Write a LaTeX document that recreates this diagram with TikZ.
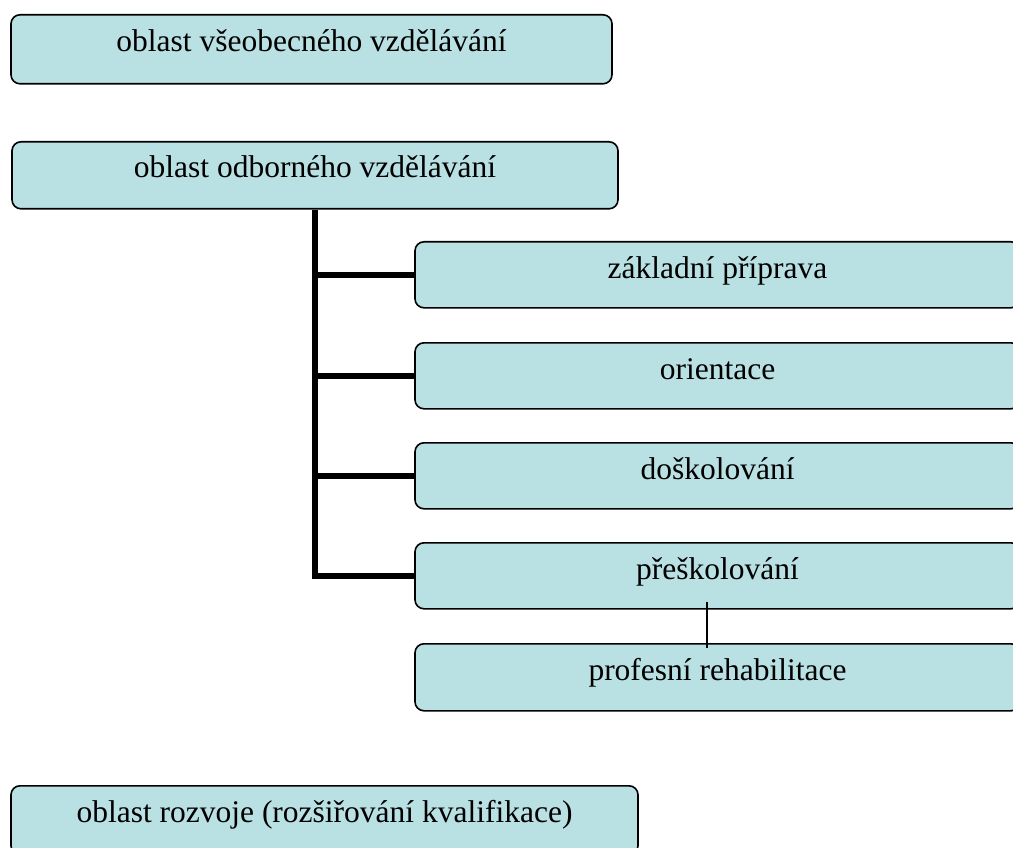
\documentclass[tikz,border=0pt]{standalone}
\usepackage{fontspec}
\setmainfont{Liberation Serif}
\usetikzlibrary{calc}
\definecolor{boxfill}{RGB}{185,224,227}
\begin{document}
\begin{tikzpicture}[x=1pt,y=-1pt,
  box/.style={draw=black, line width=1.6pt, fill=boxfill, rounded corners=9pt,
    inner sep=0pt, font=\fontsize{31.5}{36}\selectfont, anchor=north},
  trunk/.style={line width=6pt, line join=miter, line cap=butt},
  thinline/.style={line width=1.3pt}]
\clip (0,0) rectangle (1013,848);
\fill[white] (0,0) rectangle (1013,848);
\node[box, minimum width=601pt, text height=37pt, text depth=32pt] (vse) at (311.5,14) {oblast všeobecného vzdělávání};
\node[box, minimum width=606pt, text height=36pt, text depth=31pt] (odb) at (315,141) {oblast odborného vzdělávání};
\node[box, minimum width=605pt, text height=37pt, text depth=29pt] (zak) at (717.5,241) {základní příprava};
\node[box, minimum width=605pt, text height=37pt, text depth=29pt] (ori) at (717.5,342) {orientace};
\node[box, minimum width=605pt, text height=37pt, text depth=29pt] (dos) at (717.5,442) {doškolování};
\node[box, minimum width=605pt, text height=37pt, text depth=29pt] (pre) at (717.5,542) {přeškolování};
\node[box, minimum width=605pt, text height=37pt, text depth=30pt] (prof) at (717.5,643) {profesní rehabilitace};
\node[box, minimum width=627pt, text height=37pt, text depth=32pt] (roz) at (324.5,785) {oblast rozvoje (rozšiřování kvalifikace)};
\draw[trunk] (odb.south) |- (pre.west);
\draw[trunk] (odb.south |- zak.west) -- (zak.west);
\draw[trunk] (odb.south |- ori.west) -- (ori.west);
\draw[trunk] (odb.south |- dos.west) -- (dos.west);
\draw[thinline] ($(pre.south)+(-10.5,-8)$) -- ($(prof.north)+(-10.5,5)$);
\end{tikzpicture}
\end{document}
